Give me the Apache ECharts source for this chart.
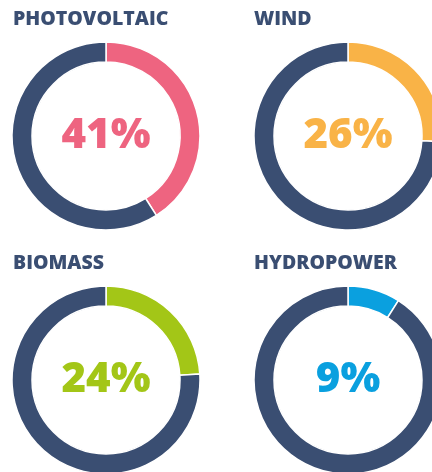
<!DOCTYPE html>
<html>
<head>
<meta charset="utf-8">
<script src="https://cdn.jsdelivr.net/npm/echarts@6/dist/echarts.min.js"></script>
<style>
  html, body { margin: 0; padding: 0; background: #fff; }
  #main { width: 432px; height: 472px; }
</style>
</head>
<body>
<div id="main"></div>
<script>
// renewable sources and their share (percent)
var sources = ['PHOTOVOLTAIC', 'WIND', 'BIOMASS', 'HYDROPOWER'];
var shares = [41, 26, 24, 9];
var sourceColors = ['#ee6480', '#f9b347', '#a3c617', '#0aa0df'];
var restColor = '#3a4e72';

var centers = [[106, 136], [348, 136], [106, 380], [348, 380]];
var titlePos = [[13, 9], [254, 9], [13, 253], [254, 253]];

var myChart = echarts.init(document.getElementById('main'));

var titles = [];
var series = [];
sources.map(function (name, i) {
    titles.push({
        text: name,
        left: titlePos[i][0],
        top: titlePos[i][1],
        padding: 0,
        textStyle: {
            fontFamily: 'Open Sans',
            fontWeight: 800,
            fontSize: 19.5,
            color: restColor
        }
    });
    series.push({
        type: 'pie',
        name: name,
        center: centers[i],
        radius: [74, 94],
        startAngle: 90,
        clockwise: true,
        silent: true,
        labelLine: { show: false },
        itemStyle: { borderColor: '#fff', borderWidth: 1.5 },
        data: [
            {
                value: shares[i],
                name: name,
                itemStyle: { color: sourceColors[i] },
                label: {
                    show: true,
                    position: 'center',
                    formatter: shares[i] + '%',
                    fontFamily: 'Open Sans',
                    fontWeight: 800,
                    fontSize: 42,
                    color: sourceColors[i],
                    padding: [0, 0, 10, 0]
                }
            },
            {
                value: 100 - shares[i],
                name: 'other',
                itemStyle: { color: restColor },
                label: { show: false }
            }
        ]
    });
});

myChart.setOption({
    animation: false,
    title: titles,
    series: series
});
</script>
</body>
</html>
